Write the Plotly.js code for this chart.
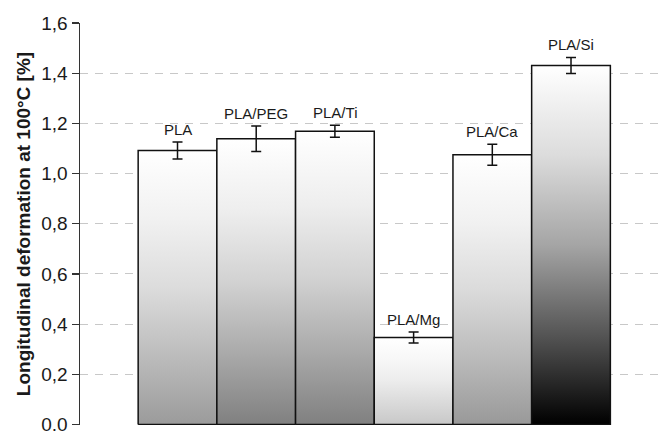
<!DOCTYPE html>
<html>
<head>
<meta charset="utf-8">
<script src="https://cdn.plot.ly/plotly-3.0.1.min.js"></script>
<style>html,body{margin:0;padding:0;background:#fff;}#chart{width:659px;height:431px;}</style>
</head>
<body>
<div id="chart"></div>
<script>
// Data
const categories = ["PLA", "PLA/PEG", "PLA/Ti", "PLA/Mg", "PLA/Ca", "PLA/Si"];
const deformation = [1.092, 1.139, 1.169, 0.347, 1.075, 1.431];
const errors = [0.034, 0.051, 0.024, 0.022, 0.042, 0.032];
const tickValues = [0, 0.2, 0.4, 0.6, 0.8, 1.0, 1.2, 1.4, 1.6];

// Styling: bottom grey of each bar's white-to-grey gradient
const bottomGrey = [155, 128, 128, 200, 153, 0];
const shapeStops = [[0, 1], [0.25, 0.667], [0.5, 0.353], [0.75, 0.137], [1, 0]];

function scaleFor(b) {
  return shapeStops.map(([f, d]) => {
    const c = Math.round(255 - (255 - b) * d);
    return [f, `rgb(${c},${c},${c})`];
  });
}

const traces = categories.map((name, i) => ({
  type: "scatter",
  mode: "lines",
  x: [i - 0.5, i - 0.5, i + 0.5, i + 0.5, i - 0.5],
  y: [0, deformation[i], deformation[i], 0, 0],
  fill: "toself",
  fillgradient: { type: "vertical", colorscale: scaleFor(bottomGrey[i]) },
  line: { color: "#111", width: 1.5 },
  hoverinfo: "skip",
  showlegend: false
}));

traces.push({
  type: "scatter",
  mode: "markers",
  x: categories.map((_, i) => i),
  y: deformation,
  marker: { size: 0.1, color: "rgba(0,0,0,0)" },
  error_y: { type: "data", array: errors, visible: true, color: "#111", thickness: 1.5, width: 5 },
  showlegend: false,
  hoverinfo: "skip"
});

const annotations = categories.map((name, i) => ({
  x: i, y: deformation[i] + errors[i],
  xref: "x", yref: "y",
  text: name, showarrow: false,
  yanchor: "bottom", xanchor: "center", yshift: 2,
  font: { family: "Liberation Sans, Arial, sans-serif", size: 15, color: "#1a1a1a" }
}));

const layout = {
  width: 659, height: 431,
  margin: { l: 80, r: 0, t: 23, b: 6, pad: 0 },
  paper_bgcolor: "#fff", plot_bgcolor: "#fff",
  showlegend: false,
  xaxis: {
    range: [-1.239, 6.118],
    showgrid: false, zeroline: false, showline: false,
    showticklabels: false, ticks: ""
  },
  yaxis: {
    range: [-0.002, 1.6],
    tickvals: tickValues,
    tickformat: ".1f",
    ticks: "outside", ticklen: 7, tickwidth: 1.2, tickcolor: "#333",
    showline: true, linecolor: "#333", linewidth: 1.5,
    showgrid: true, gridcolor: "#c8c8c8", gridwidth: 1, griddash: "8px,7px",
    zeroline: false,
    ticklabeloverflow: "allow",
    tickfont: { family: "Liberation Sans, Arial, sans-serif", size: 19, color: "#1a1a1a" },
    title: {
      text: "<b>Longitudinal deformation at 100°C [%]</b>",
      font: { family: "Liberation Sans, Arial, sans-serif", size: 19, color: "#1a1a1a" },
      standoff: 5
    }
  },
  separators: ",.",
  annotations: annotations
};

Plotly.newPlot("chart", traces, layout, { displayModeBar: false, staticPlot: true });
</script>
</body>
</html>
